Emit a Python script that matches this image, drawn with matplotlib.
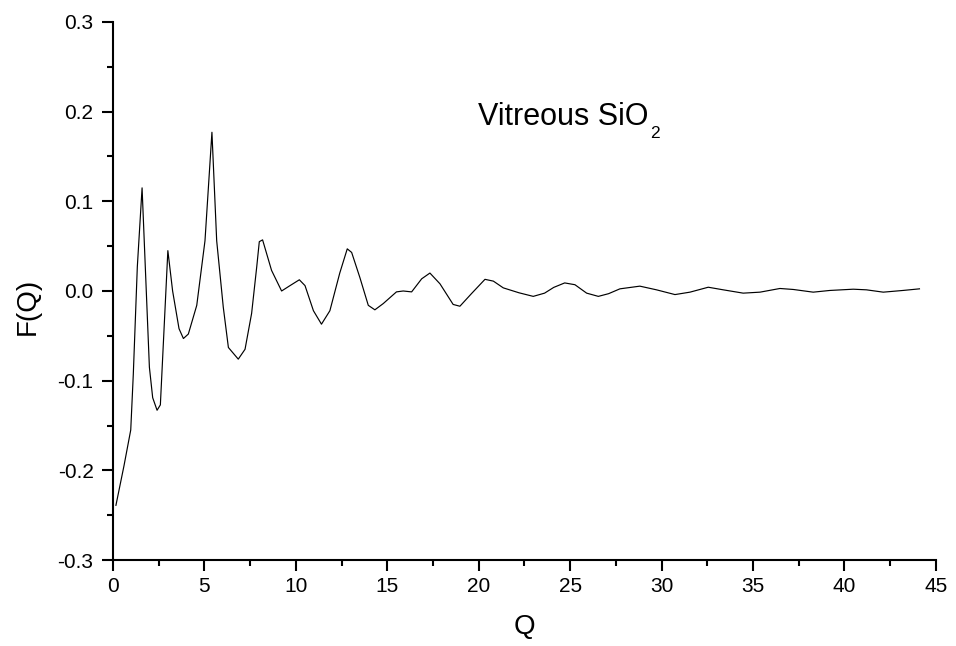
import matplotlib
matplotlib.use("Agg")
import matplotlib.pyplot as plt
from matplotlib.ticker import MultipleLocator, FormatStrFormatter

plt.rcParams['font.family'] = ['Liberation Sans', 'DejaVu Sans']
plt.rcParams['axes.unicode_minus'] = False

# F(Q)
q = [0.16, 0.6, 0.97, 1.11, 1.33, 1.59, 1.99, 2.17, 2.41, 2.59, 3.0, 3.26, 3.61, 3.85,
     4.12, 4.58, 5.03, 5.41, 5.67, 6.03, 6.31, 6.85, 7.22, 7.58, 7.86, 8.0, 8.18,
     8.67, 9.22, 9.68, 10.19, 10.5, 10.96, 11.4, 11.86, 12.4, 12.81, 13.05, 13.5,
     13.96, 14.32, 14.78, 15.5, 15.87, 16.33, 16.88, 17.33, 17.88, 18.6, 18.97,
     19.6, 20.34, 20.8, 21.34, 22.2, 22.98, 23.6, 24.1, 24.7, 25.26, 25.9, 26.54,
     27.1, 27.72, 28.81, 29.72, 30.73, 31.55, 32.55, 33.37, 34.46, 35.38, 36.47,
     37.2, 38.29, 39.2, 40.48, 41.2, 42.12, 43.2, 44.1]
f = [-0.239, -0.195, -0.155, -0.093, 0.027, 0.115, -0.085, -0.119, -0.133, -0.127,
     0.045, 0.0, -0.042, -0.053, -0.048, -0.016, 0.056, 0.177, 0.056, -0.018,
     -0.063, -0.076, -0.065, -0.025, 0.027, 0.055, 0.057, 0.023, 0.0, 0.006,
     0.0125, 0.006, -0.022, -0.037, -0.022, 0.02, 0.047, 0.043, 0.015, -0.016,
     -0.021, -0.014, -0.001, 0.0, -0.001, 0.0136, 0.02, 0.008, -0.015, -0.017,
     -0.003, 0.013, 0.011, 0.0035, -0.002, -0.006, -0.0024, 0.004, 0.009, 0.007,
     -0.0024, -0.006, -0.003, 0.0024, 0.0054, 0.0013, -0.004, -0.0013, 0.0042,
     0.0013, -0.0024, -0.0013, 0.0028, 0.0017, -0.0013, 0.0006, 0.002, 0.0013,
     -0.0013, 0.0006, 0.0024]

fig = plt.figure(figsize=(9.56, 6.46), dpi=100)
ax = fig.add_axes([0.1182, 0.1331, 0.8608, 0.8329])
ax.plot(q, f, color='black', lw=0.85)

ax.set_xlim(0, 45)
ax.set_ylim(-0.3, 0.3)
ax.spines['top'].set_visible(False)
ax.spines['right'].set_visible(False)
ax.spines['left'].set_linewidth(1.5)
ax.spines['bottom'].set_linewidth(1.5)
ax.xaxis.set_major_locator(MultipleLocator(5))
ax.xaxis.set_minor_locator(MultipleLocator(2.5))
ax.yaxis.set_major_locator(MultipleLocator(0.1))
ax.yaxis.set_minor_locator(MultipleLocator(0.05))
ax.yaxis.set_major_formatter(FormatStrFormatter('%.1f'))
ax.tick_params(which='major', direction='out', length=8, width=1.5, labelsize=15)
ax.tick_params(axis='x', which='major', pad=4)
ax.tick_params(axis='y', which='major', pad=6)
ax.tick_params(which='minor', direction='out', length=4.5, width=1.5)

ax.set_xlabel('Q', fontsize=20)
ax.xaxis.set_label_coords(0.5, -0.100)
ax.set_ylabel('F(Q)', fontsize=20)
ax.yaxis.set_label_coords(-0.0875, 0.472)

# title-like annotation with a dropped subscript
t = ax.text(19.96, 0.185, 'Vitreous SiO', fontsize=22, ha='left', va='baseline')
ax.annotate('2', xy=(1, 0), xycoords=t, xytext=(1, -6.5), textcoords='offset points',
            fontsize=12.5, ha='left', va='bottom')

fig.savefig('out.png', dpi=100)
